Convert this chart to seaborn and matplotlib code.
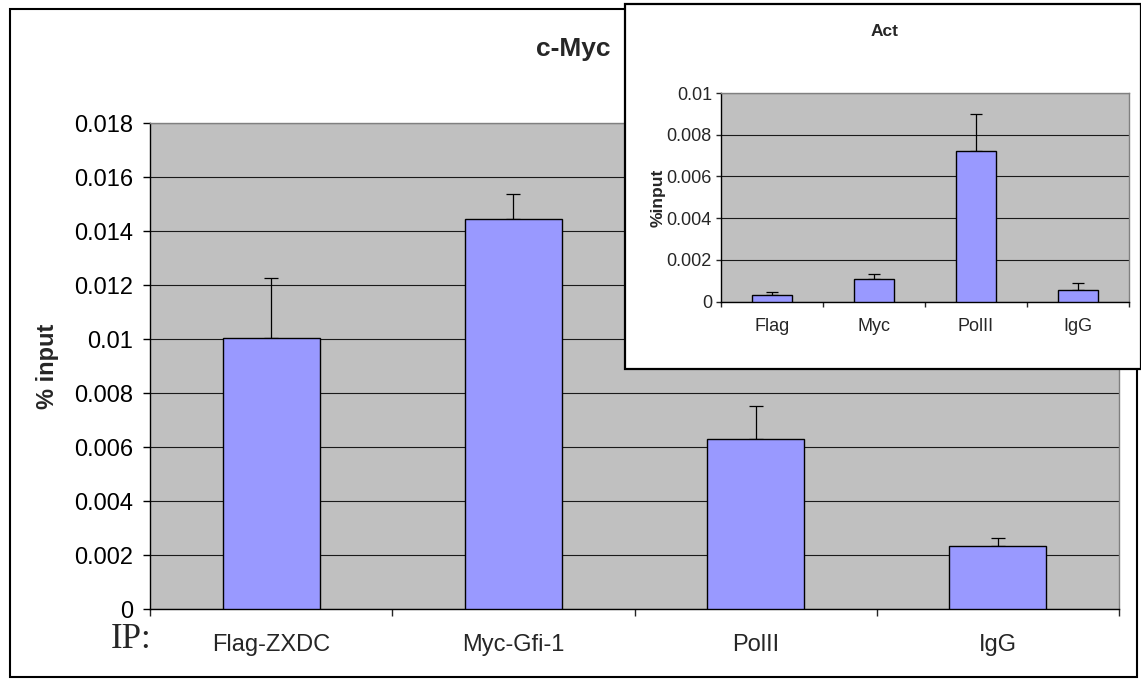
# -*- coding: utf-8 -*-
"""
ChIP qPCR chart: c-Myc promoter (main) with Act inset, Excel style
"""
import numpy as np
import pandas as pd
import matplotlib
matplotlib.use('Agg')
import matplotlib.pyplot as plt
from matplotlib.patches import Rectangle
from matplotlib.ticker import FuncFormatter, MultipleLocator
import seaborn as sns

# ---- data ----
main_labels = ['Flag-ZXDC', 'Myc-Gfi-1', 'PolII', 'IgG']
main_values = [0.01006, 0.01444, 0.00631, 0.00234]
main_err = [0.00221, 0.00094, 0.00123, 0.00031]

inset_labels = ['Flag', 'Myc', 'PolII', 'IgG']
inset_values = [0.00034, 0.00107, 0.00720, 0.00058]
inset_err = [0.00014, 0.00024, 0.00180, 0.00032]

main_title = 'c-Myc'
inset_title = 'Act'

sns.set_style('ticks')
plt.rcParams['font.family'] = ['Liberation Sans', 'DejaVu Sans']
narrow = ['Liberation Sans Narrow', 'Liberation Sans', 'DejaVu Sans']

W, H = 1141, 680
BAR = '#9999FF'
PLOT_BG = '#C0C0C0'


def px_box(left, top, right, bottom):
    """pixel box -> figure fraction [x, y, w, h]"""
    return [left / W, 1 - bottom / H, (right - left) / W, (bottom - top) / H]


def excel_bars(ax, labels, values, err, width, capsize, ymax, step):
    df = pd.DataFrame({'ip': labels, 'val': values})
    sns.barplot(data=df, x='ip', y='val', color=BAR, saturation=1,
                edgecolor='black', linewidth=1.0, width=width,
                errorbar=None, ax=ax, zorder=3)
    # plus-only error bars, as in Excel
    ax.errorbar(np.arange(len(values)), values,
                yerr=[np.zeros(len(err)), err], fmt='none',
                ecolor='black', elinewidth=0.9, capsize=capsize,
                capthick=0.9, zorder=2)
    ax.set_facecolor(PLOT_BG)
    ax.set_xlim(-0.5, len(labels) - 0.5)
    ax.set_ylim(0, ymax)
    ax.yaxis.set_major_locator(MultipleLocator(step))
    ax.yaxis.set_major_formatter(FuncFormatter(lambda v, p: '%g' % round(v, 6)))
    ax.yaxis.grid(True, color='#1a1a1a', linewidth=0.8)
    ax.set_axisbelow(True)
    # ticks between categories, labels centred under bars
    ax.set_xticks(np.arange(len(labels) + 1) - 0.5)
    ax.set_xticklabels([])
    ax.set_xticks(np.arange(len(labels)), minor=True)
    ax.set_xticklabels(labels, minor=True)
    ax.set_xlabel('')
    for side in ['left', 'bottom']:
        ax.spines[side].set_color('black')
        ax.spines[side].set_linewidth(1.0)
    for side in ['top', 'right']:
        ax.spines[side].set_visible(True)
        ax.spines[side].set_color('#808080')
        ax.spines[side].set_linewidth(1.0)


fig = plt.figure(figsize=(W / 100, H / 100), dpi=100)
fig.patch.set_facecolor('white')

# outer chart frame
fig.add_artist(Rectangle((10 / W, 1 - 677 / H), 1127 / W, 668 / H,
                         transform=fig.transFigure, facecolor='none',
                         edgecolor='black', linewidth=1.5, zorder=0.5))

# ---- main chart ----
ax = fig.add_axes(px_box(150, 123.3, 1119, 609.3))
excel_bars(ax, main_labels, main_values, main_err, 0.4, 4.7, 0.018, 0.002)
ax.tick_params(axis='y', which='major', direction='out', length=5,
               width=1, pad=7, labelsize=17, colors='black')
ax.tick_params(axis='x', which='major', direction='out', length=5, width=1)
ax.tick_params(axis='x', which='minor', length=0, pad=18, labelsize=17)
ax.set_ylabel('% input', fontsize=17, fontweight='bold')
ax.yaxis.set_label_coords(-0.094, 0.5)

fig.text(573 / W, 1 - 49 / H, main_title, fontsize=19, fontweight='bold',
         ha='center', va='center')
fig.text(131 / W, 1 - 640 / H, 'IP:', fontsize=25,
         family=['Liberation Serif', 'DejaVu Serif'], ha='center', va='center')

# ---- inset (Act) ----
fig.add_artist(Rectangle((625 / W, 1 - 369 / H), 516 / W, 365 / H,
                         transform=fig.transFigure, facecolor='white',
                         edgecolor='black', linewidth=1.6, zorder=2))
ax2 = fig.add_axes(px_box(721, 93, 1129, 301.7), zorder=3)
excel_bars(ax2, inset_labels, inset_values, inset_err, 0.4, 4.3, 0.01, 0.002)
ax2.tick_params(axis='y', which='major', direction='out', length=3.5,
                width=1, pad=3, labelsize=13, labelfontfamily=narrow)
ax2.tick_params(axis='x', which='major', direction='out', length=3.5, width=1)
ax2.tick_params(axis='x', which='minor', length=0, pad=12, labelsize=13,
                labelfontfamily=narrow)
ax2.set_ylabel('%input', fontsize=12.5, fontweight='bold', family=narrow)
ax2.yaxis.set_label_coords(-0.135, 0.5)
fig.text(885 / W, 1 - 31.7 / H, inset_title, fontsize=12.5, fontweight='bold',
         family=narrow, ha='center', va='center', zorder=4)

fig.savefig('out.png', dpi=100)
